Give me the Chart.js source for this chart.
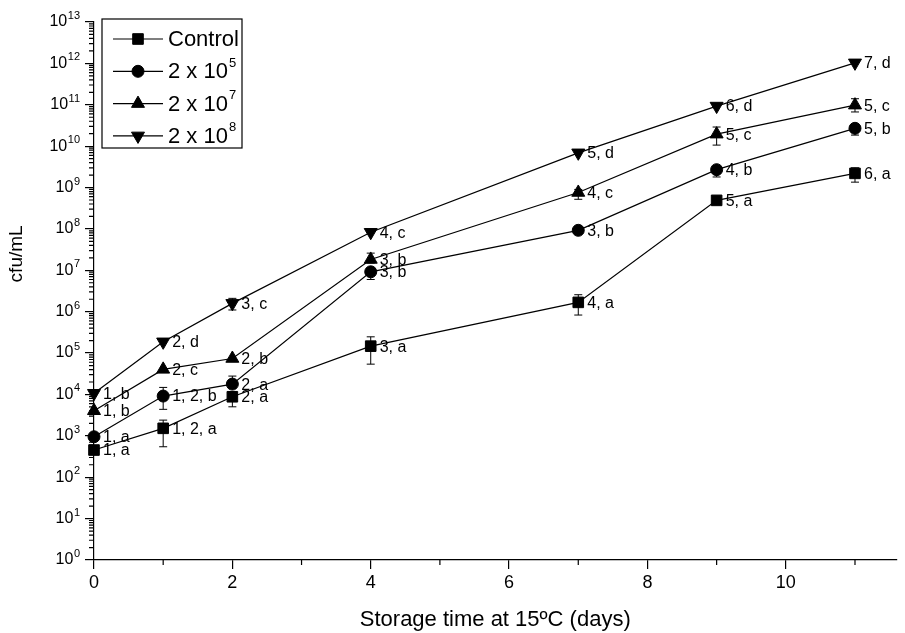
<!DOCTYPE html>
<html>
<head>
<meta charset="utf-8">
<script src="https://cdn.jsdelivr.net/npm/chart.js@4.4.1/dist/chart.umd.min.js"></script>
<style>
  html, body { margin: 0; padding: 0; background: #fff; }
  #wrap { width: 905px; height: 633px; }
</style>
</head>
<body>
<div id="wrap"><canvas id="cfuChart"></canvas></div>
<script>
const days = [0, 1, 2, 4, 7, 9, 11];

// cfu/mL
const control = [454, 1520, 8800, 1.47e5, 1.68e6, 4.9e8, 2.2e9];
const dose5 = [950, 9150, 1.78e4, 9.2e6, 9.25e7, 2.7e9, 2.7e10];
const dose7 = [4040, 4.04e4, 7.4e4, 1.83e7, 7.6e8, 1.95e10, 9.8e10];
const dose8 = [1.07e4, 1.87e5, 1.59e6, 8.3e7, 6.9e9, 9.3e10, 1.03e12];

// error bars [low, high], null where none shows
const controlErr = [null, [545, 2400], [5030, 11600], [5.4e4, 2.47e5], [8.3e5, 2.57e6], null, [1.35e9, 3.0e9]];
const dose5Err = [null, [4370, 1.48e4], [1.5e4, 2.78e4], [6.0e6, 1.1e7], null, [1.8e9, 3.2e9], [1.85e10, 3.2e10]];
const dose7Err = [null, null, null, [1.5e7, 2.6e7], [5.2e8, 9e8], [1.06e10, 2.9e10], [6.7e10, 1.4e11]];
const dose8Err = [null, null, [1.1e6, 2.1e6], null, null, null, null];

// letters printed beside each point
const controlTags = ["1, a", "1, 2, a", "2, a", "3, a", "4, a", "5, a", "6, a"];
const dose5Tags = ["1, a", "1, 2, b", "2, a", "3, b", "3, b", "4, b", "5, b"];
const dose7Tags = ["1, b", "2, c", "2, b", "3, b", "4, c", "5, c", "5, c"];
const dose8Tags = ["1, b", "2, d", "3, c", "4, c", "5, d", "6, d", "7, d"];

const legendNames = ["Control", "2 x 10", "2 x 10", "2 x 10"];
const legendPowers = ["", "5", "7", "8"];

const xTicks = [0, 2, 4, 6, 8, 10];
const xMinorTicks = [1, 3, 5, 7, 9, 11];
const yPowers = [0, 1, 2, 3, 4, 5, 6, 7, 8, 9, 10, 11, 12, 13];

const FONT = "'Liberation Sans', Arial, Helvetica, sans-serif";
const errorSets = [controlErr, dose5Err, dose7Err, dose8Err];
const tagSets = [controlTags, dose5Tags, dose7Tags, dose8Tags];

function series(label, values, style, radius, rotation) {
  return {
    label: label,
    data: values.map((v, i) => ({ x: days[i], y: v })),
    borderColor: "#000",
    backgroundColor: "#000",
    borderWidth: 1.2,
    pointStyle: style,
    pointRadius: radius,
    pointRotation: rotation,
    pointBackgroundColor: "#000",
    pointBorderColor: "#000",
    pointBorderWidth: 1,
    tension: 0,
    clip: false,
  };
}

function marker(ctx, ds, x, y) {
  const opts = {
    pointStyle: ds.pointStyle,
    rotation: ds.pointRotation,
    radius: ds.pointRadius,
    borderWidth: 1,
  };
  ctx.fillStyle = "#000";
  ctx.strokeStyle = "#000";
  ctx.lineWidth = 1;
  Chart.helpers.drawPoint(ctx, opts, x, y);
}

const decorations = {
  id: "decorations",
  afterDatasetsDraw(chart) {
    const ctx = chart.ctx;
    const xs = chart.scales.x;
    const ys = chart.scales.y;
    ctx.save();
    ctx.strokeStyle = "#000";
    ctx.lineWidth = 1;
    errorSets.forEach((errs) => {
      errs.forEach((e, i) => {
        if (!e) return;
        const px = xs.getPixelForValue(days[i]);
        const lo = ys.getPixelForValue(e[0]);
        const hi = ys.getPixelForValue(e[1]);
        ctx.beginPath();
        ctx.moveTo(px, lo);
        ctx.lineTo(px, hi);
        ctx.moveTo(px - 4, lo);
        ctx.lineTo(px + 4, lo);
        ctx.moveTo(px - 4, hi);
        ctx.lineTo(px + 4, hi);
        ctx.stroke();
      });
    });

    ctx.fillStyle = "#000";
    ctx.font = "16px " + FONT;
    ctx.textAlign = "left";
    ctx.textBaseline = "middle";
    tagSets.forEach((tags, di) => {
      const meta = chart.getDatasetMeta(di);
      meta.data.forEach((pt, i) => {
        ctx.fillText(tags[i], pt.x + 9, pt.y + 1);
      });
    });
    ctx.restore();
  },
  afterDraw(chart) {
    const ctx = chart.ctx;
    const area = chart.chartArea;
    const xs = chart.scales.x;
    const ys = chart.scales.y;
    ctx.save();
    ctx.strokeStyle = "#000";
    ctx.lineWidth = 1.2;

    // minor ticks
    ctx.beginPath();
    xMinorTicks.forEach((v) => {
      const px = xs.getPixelForValue(v);
      ctx.moveTo(px, area.bottom);
      ctx.lineTo(px, area.bottom + 5);
    });
    yPowers.slice(0, -1).forEach((p) => {
      for (let k = 2; k <= 9; k++) {
        const py = ys.getPixelForValue(k * Math.pow(10, p));
        ctx.moveTo(area.left - 5, py);
        ctx.lineTo(area.left, py);
      }
    });
    ctx.stroke();

    // y tick labels with superscript powers
    ctx.fillStyle = "#000";
    ctx.textAlign = "right";
    ctx.textBaseline = "middle";
    const right = area.left - 14;
    yPowers.forEach((p) => {
      const py = ys.getPixelForValue(Math.pow(10, p));
      ctx.font = "11px " + FONT;
      const w = ctx.measureText(String(p)).width;
      ctx.fillText(String(p), right, py - 6);
      ctx.font = "16px " + FONT;
      ctx.fillText("10", right - w - 0.5, py);
    });

    // y axis title
    ctx.save();
    ctx.translate(17, area.top + (area.bottom - area.top) * 0.431);
    ctx.rotate(-Math.PI / 2);
    ctx.textAlign = "center";
    ctx.font = "19px " + FONT;
    ctx.fillText("cfu/mL", 0, 0);
    ctx.restore();

    // legend
    const bx = area.left + 8;
    const by = area.top - 3;
    ctx.lineWidth = 1.2;
    ctx.strokeRect(bx, by, 140, 129);
    chart.data.datasets.forEach((ds, i) => {
      const ry = by + 20 + i * 32.3;
      ctx.strokeStyle = "#000";
      ctx.lineWidth = 1.2;
      ctx.beginPath();
      ctx.moveTo(bx + 11, ry);
      ctx.lineTo(bx + 61, ry);
      ctx.stroke();
      marker(ctx, ds, bx + 36, ry);
      ctx.fillStyle = "#000";
      ctx.textAlign = "left";
      ctx.textBaseline = "middle";
      ctx.font = "22px " + FONT;
      ctx.fillText(legendNames[i], bx + 66, ry + 1);
      if (legendPowers[i]) {
        const w = ctx.measureText(legendNames[i]).width;
        ctx.font = "13px " + FONT;
        ctx.fillText(legendPowers[i], bx + 67 + w, ry - 8);
      }
    });
    ctx.restore();
  },
};

new Chart(document.getElementById("cfuChart"), {
  type: "line",
  data: {
    datasets: [
      series("Control", control, "rect", 7.5, 0),
      series("2 x 10^5", dose5, "circle", 6, 0),
      series("2 x 10^7", dose7, "triangle", 7.5, 0),
      series("2 x 10^8", dose8, "triangle", 7.5, 180),
    ],
  },
  options: {
    responsive: true,
    maintainAspectRatio: false,
    animation: false,
    devicePixelRatio: 1,
    layout: {
      padding: { top: 22, right: 2, left: 0, bottom: 0 },
    },
    plugins: {
      legend: { display: false },
      tooltip: { enabled: false },
    },
    scales: {
      x: {
        type: "linear",
        min: 0,
        max: 11.6,
        afterBuildTicks: (scale) => {
          scale.ticks = xTicks.map((v) => ({ value: v }));
        },
        afterFit: (scale) => {
          scale.height = 73;
        },
        grid: {
          drawOnChartArea: false,
          color: "#000",
          lineWidth: 1.2,
          tickLength: 9,
        },
        border: { color: "#000", width: 1.2 },
        ticks: {
          color: "#000",
          padding: 3,
          font: { family: FONT, size: 18 },
        },
        title: {
          display: true,
          text: "Storage time at 15ºC (days)",
          color: "#000",
          font: { family: FONT, size: 22 },
          padding: { top: 0, bottom: 0 },
        },
      },
      y: {
        type: "logarithmic",
        min: 1,
        max: 1e13,
        afterBuildTicks: (scale) => {
          scale.ticks = yPowers.map((p) => ({ value: Math.pow(10, p), major: true }));
        },
        afterFit: (scale) => {
          scale.width = 94;
        },
        grid: {
          drawOnChartArea: false,
          color: "#000",
          lineWidth: 1.2,
          tickLength: 9,
        },
        border: { color: "#000", width: 1.2 },
        ticks: {
          callback: () => "",
        },
      },
    },
  },
  plugins: [decorations],
});
</script>
</body>
</html>
